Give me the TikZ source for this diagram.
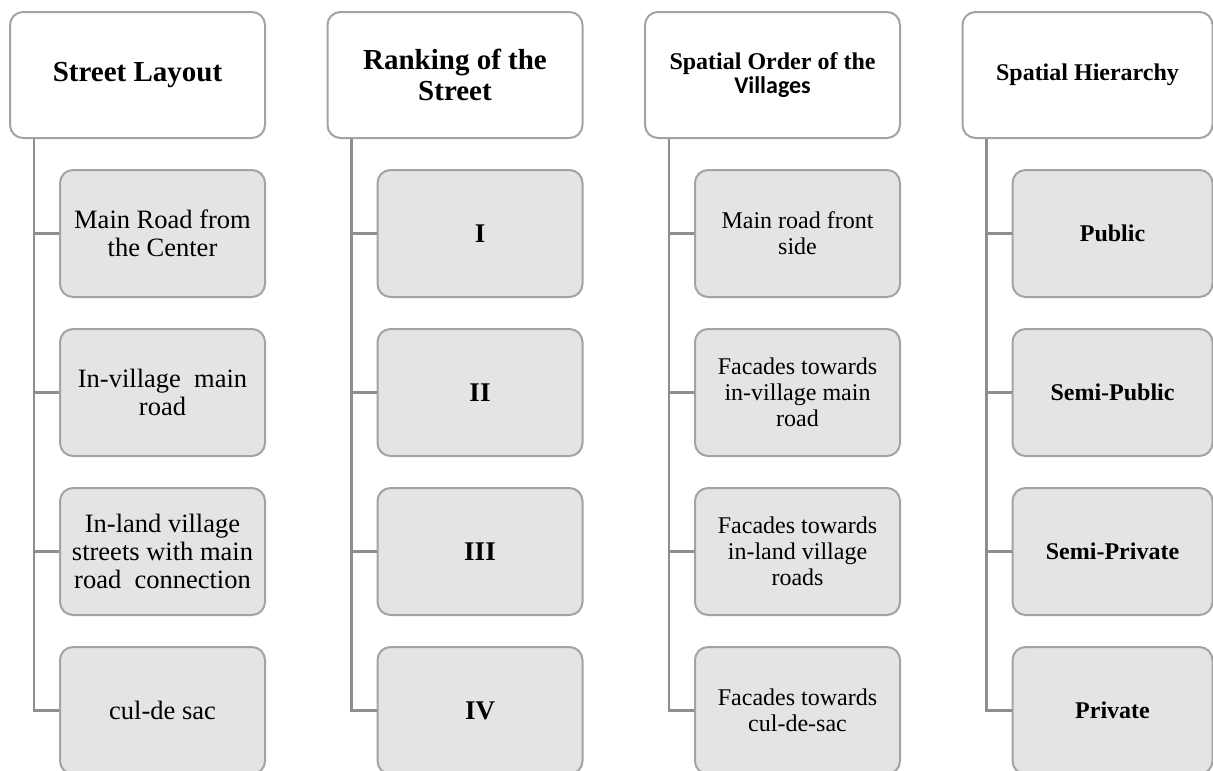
\documentclass[tikz,border=0pt]{standalone}
\usepackage{fontspec}
\setmainfont{Liberation Serif}
\newfontfamily\calibri{Carlito}
\definecolor{boxline}{HTML}{A3A3A3}
\definecolor{boxfill}{HTML}{E4E4E4}
\definecolor{stemline}{HTML}{8E8E8E}

\begin{document}
\begin{tikzpicture}[x=1pt,y=-1pt]
\tikzstyle{head}=[rectangle,rounded corners=13pt,draw=boxline,line width=2pt,fill=white,minimum width=#1,minimum height=126pt,inner sep=0pt,align=center]
\tikzstyle{leaf}=[rectangle,rounded corners=13pt,draw=boxline,line width=2pt,fill=boxfill,minimum width=#1,minimum height=127pt,inner sep=0pt,align=center]
\tikzstyle{stem}=[draw=stemline,line width=2.8pt]
\useasboundingbox (0,0) rectangle (1213,771);

% street layout
\node[head=255pt,font=\fontsize{29}{31}\selectfont\bfseries](layout) at (137.5,75) {Street Layout};
\node[leaf=205pt,font=\fontsize{26.5}{28}\selectfont](layout1) at (162.5,233.5) {Main Road from\\the Center};
\node[leaf=205pt,font=\fontsize{26.5}{28}\selectfont](layout2) at (162.5,392.5) {In-village~ main\\road};
\node[leaf=205pt,font=\fontsize{26.5}{28}\selectfont](layout3) at (162.5,551.5) {In-land village\\streets with main\\road~ connection};
\node[leaf=205pt,font=\fontsize{26.5}{28}\selectfont](layout4) at (162.5,710.5) {cul-de sac};

% ranking
\node[head=255pt,font=\fontsize{29}{31}\selectfont\bfseries](rank) at (455,75) {Ranking of the\\Street};
\node[leaf=205pt,font=\fontsize{27}{29}\selectfont\bfseries](rank1) at (480,233.5) {I};
\node[leaf=205pt,font=\fontsize{27}{29}\selectfont\bfseries](rank2) at (480,392.5) {II};
\node[leaf=205pt,font=\fontsize{27}{29}\selectfont\bfseries](rank3) at (480,551.5) {III};
\node[leaf=205pt,font=\fontsize{27}{29}\selectfont\bfseries](rank4) at (480,710.5) {IV};

% spatial order
\node[head=255pt,font=\fontsize{24}{24}\selectfont\bfseries](order) at (772.5,75) {Spatial Order of the\\{\calibri Villages}};
\node[leaf=205pt,font=\fontsize{24}{26}\selectfont](order1) at (797.5,233.5) {Main road front\\side};
\node[leaf=205pt,font=\fontsize{24}{26}\selectfont](order2) at (797.5,392.5) {Facades towards\\in-village main\\road};
\node[leaf=205pt,font=\fontsize{24}{26}\selectfont](order3) at (797.5,551.5) {Facades towards\\in-land village\\roads};
\node[leaf=205pt,font=\fontsize{24}{26}\selectfont](order4) at (797.5,710.5) {Facades towards\\cul-de-sac};

% hierarchy
\node[head=250pt,font=\fontsize{24}{26}\selectfont\bfseries](hier) at (1087.5,75) {Spatial Hierarchy};
\node[leaf=200pt,font=\fontsize{24}{26}\selectfont\bfseries](hier1) at (1112.5,233.5) {Public};
\node[leaf=200pt,font=\fontsize{24}{26}\selectfont\bfseries](hier2) at (1112.5,392.5) {Semi-Public};
\node[leaf=200pt,font=\fontsize{24}{26}\selectfont\bfseries](hier3) at (1112.5,551.5) {Semi-Private};
\node[leaf=200pt,font=\fontsize{24}{26}\selectfont\bfseries](hier4) at (1112.5,710.5) {Private};

% stems
\foreach \col in {layout,rank,order,hier}{
  \coordinate (\col top) at ([xshift=25pt]\col.south west);
  \draw[stem] (\col top) |- (\col4.west);
  \foreach \k in {1,2,3}
    \draw[stem] (\col top |- \col\k.west) -- (\col\k.west);
}
\end{tikzpicture}
\end{document}
